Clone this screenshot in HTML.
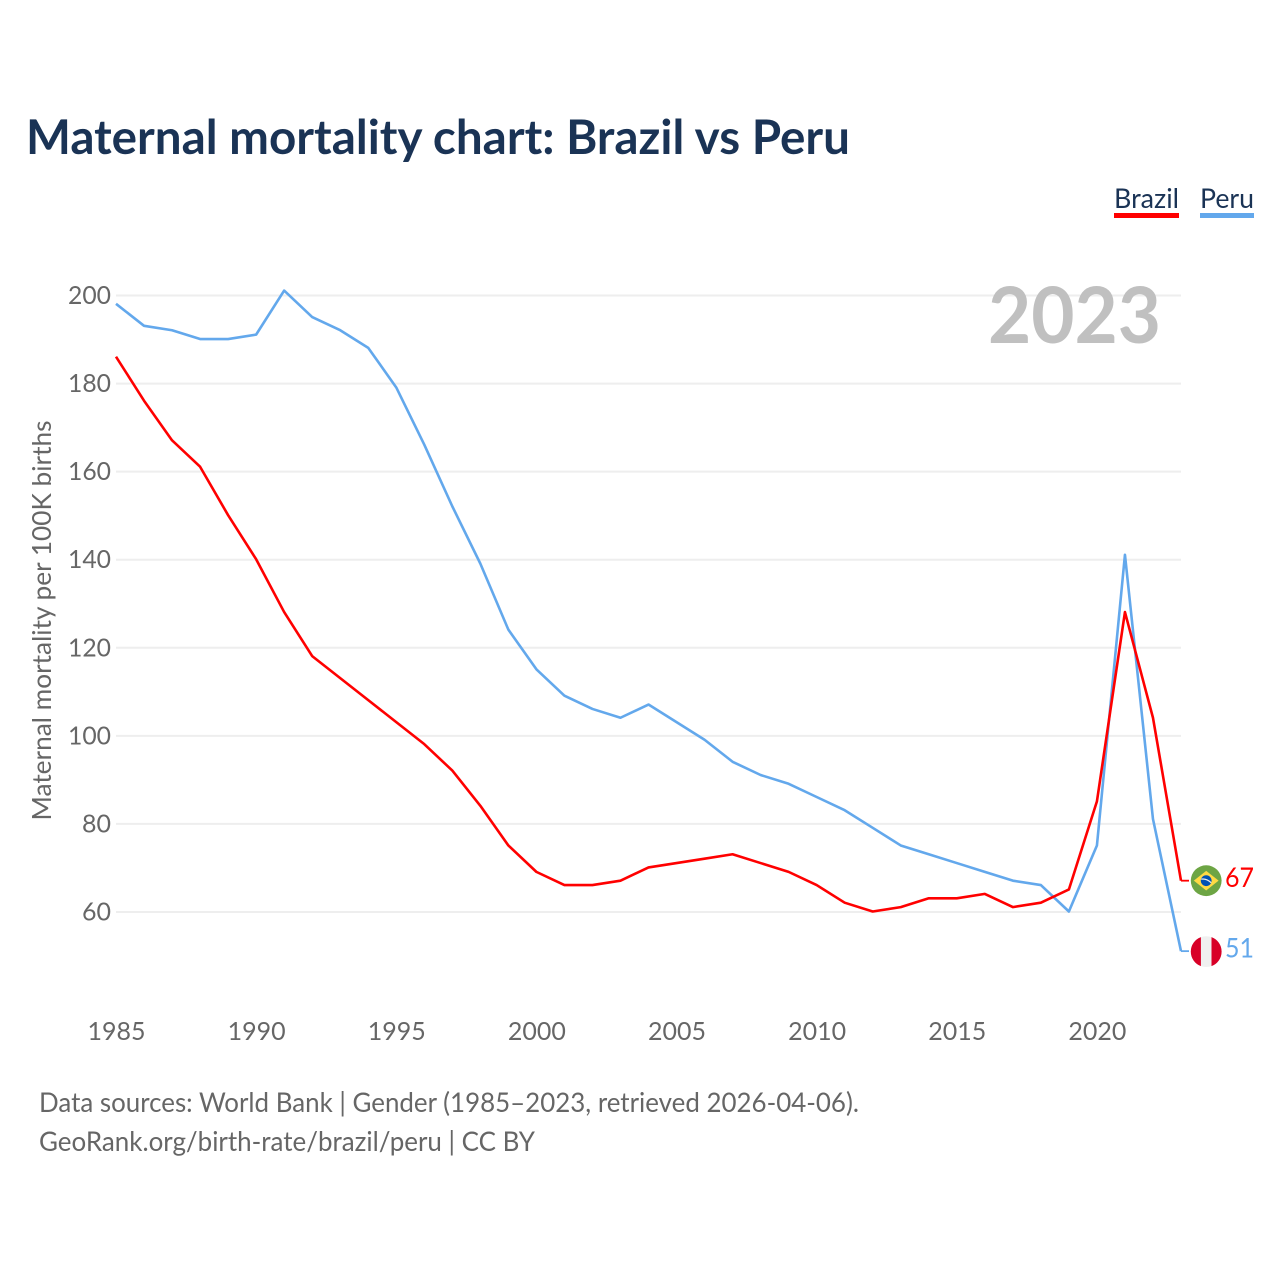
<!DOCTYPE html>
<html>
<head>
<meta charset="utf-8">
<title>Maternal mortality chart: Brazil vs Peru</title>
<style>
html,body{margin:0;padding:0;background:#fff;width:1280px;height:1280px;overflow:hidden}
svg{display:block}
text{font-family:"Lato","Carlito","Liberation Sans",sans-serif}
</style>
</head>
<body>
<svg id="chart" width="1280" height="1280" viewBox="0 0 1280 1280" xmlns="http://www.w3.org/2000/svg">
  <text x="26" y="154" font-size="48" font-weight="700" fill="#1a3355" textLength="824" lengthAdjust="spacingAndGlyphs">Maternal mortality chart: Brazil vs Peru</text>
  <g id="legend">
    <g>
      <text x="1114" y="208" font-size="27" fill="#1a3355" textLength="65" lengthAdjust="spacingAndGlyphs">Brazil</text>
      <rect x="1114" y="213" width="65" height="5" fill="#ff0000"/>
    </g>
    <g>
      <text x="1200" y="208" font-size="27" fill="#1a3355" textLength="54" lengthAdjust="spacingAndGlyphs">Peru</text>
      <rect x="1200" y="213" width="54" height="5" fill="#63a8ec"/>
    </g>
  </g>
  <g id="grid"></g>
  <g id="yticks"></g>
  <g id="xticks"></g>
  <text transform="translate(51,620.5) rotate(-90)" text-anchor="middle" font-size="26" fill="#666666" textLength="400" lengthAdjust="spacingAndGlyphs">Maternal mortality per 100K births</text>
  <text x="1161" y="343" text-anchor="end" font-size="78" font-weight="700" fill="#c0c0c0" textLength="173" lengthAdjust="spacingAndGlyphs">2023</text>
  <g id="series"></g>
  <g id="flag-brazil"></g>
  <g id="flag-peru"></g>
  <g id="end-labels"></g>
  <text x="39" y="1112" font-size="27" fill="#666666" textLength="820" lengthAdjust="spacingAndGlyphs">Data sources: World Bank | Gender (1985–2023, retrieved 2026-04-06).</text>
  <text x="39" y="1151" font-size="27" fill="#666666" textLength="496" lengthAdjust="spacingAndGlyphs">GeoRank.org/birth-rate/brazil/peru | CC BY</text>
</svg>
<script>
const years = [1985,1986,1987,1988,1989,1990,1991,1992,1993,1994,1995,1996,1997,1998,1999,2000,2001,2002,2003,2004,2005,2006,2007,2008,2009,2010,2011,2012,2013,2014,2015,2016,2017,2018,2019,2020,2021,2022,2023];
const brazilValues = [186,176,167,161,150,140,128,118,113,108,103,98,92,84,75,69,66,66,67,70,71,72,73,71,69,66,62,60,61,63,63,64,61,62,65,85,128,104,67];
const peruValues = [198,193,192,190,190,191,201,195,192,188,179,166,152,139,124,115,109,106,104,107,103,99,94,91,89,86,83,79,75,73,71,69,67,66,60,75,141,81,51];
const yTickValues = [60,80,100,120,140,160,180,200];
const xTickValues = [1985,1990,1995,2000,2005,2010,2015,2020];

const NS = 'http://www.w3.org/2000/svg';
const xScale = function (year) { return 116 + (year - 1985) * (1181 - 116) / 38; };
const yScale = function (value) { return 912 - (value - 60) * (912 - 295.5) / 140; };
const lineY = function (value) { return yScale(value) - 0.5; };
function make(tag, attrs, parent, text) {
  const el = document.createElementNS(NS, tag);
  for (const k in attrs) el.setAttribute(k, attrs[k]);
  if (text !== undefined) el.textContent = text;
  parent.appendChild(el);
  return el;
}

const gridG = document.getElementById('grid');
const yG = document.getElementById('yticks');
yTickValues.forEach(function (v) {
  const line = make('line', {x1: 116, x2: 1181, y1: yScale(v), y2: yScale(v), stroke: '#eeeeee', 'stroke-width': 2}, gridG);
  
  
  const label = make('text', {x: 111, y: yScale(v) + 8.5, 'text-anchor': 'end', 'font-size': 25, fill: '#666666', lengthAdjust: 'spacingAndGlyphs'}, yG, String(v));
  label.setAttribute('textLength', v >= 100 ? 43 : 29);
  
  
});

const xG = document.getElementById('xticks');
xTickValues.forEach(function (y) {
  const label = make('text', {x: xScale(y) + 0.5, y: 1040, 'text-anchor': 'middle', 'font-size': 25, fill: '#666666', textLength: 58, lengthAdjust: 'spacingAndGlyphs'}, xG, String(y));
  
  
});

function linePath(values) {
  return values.map(function (v, i) {
    return (i ? 'L' : 'M') + xScale(years[i]).toFixed(2) + ' ' + lineY(v).toFixed(2);
  }).join(' ');
}
const seriesG = document.getElementById('series');
const peruLine = make('path', {d: linePath(peruValues), fill: 'none', stroke: '#63a8ec', 'stroke-width': 2.6, 'stroke-linejoin': 'round'}, seriesG);


const brazilLine = make('path', {d: linePath(brazilValues), fill: 'none', stroke: '#ff0000', 'stroke-width': 2.6, 'stroke-linejoin': 'round'}, seriesG);



const lastIdx = years.length - 1;
const brazilEndY = lineY(brazilValues[lastIdx]);
const peruEndY = lineY(peruValues[lastIdx]);
const endX = xScale(years[lastIdx]);

const leaderB = make('line', {x1: endX, x2: endX + 8, y1: brazilEndY, y2: brazilEndY, stroke: '#ff0000', 'stroke-width': 1.8}, seriesG);


const leaderP = make('line', {x1: endX, x2: endX + 8, y1: peruEndY, y2: peruEndY, stroke: '#63a8ec', 'stroke-width': 1.8}, seriesG);



/* Brazil flag */
const fb = document.getElementById('flag-brazil');
const bx = 1206.2, by = brazilEndY;
const bCircle = make('circle', {cx: bx, cy: by, r: 15.4, fill: '#6da544'}, fb);


const bDiamond = make('polygon', {points: [bx, by - 9.8, bx + 12.4, by, bx, by + 9.8, bx - 12.4, by].join(' '), fill: '#ffda44'}, fb);


const bGlobe = make('circle', {cx: bx, cy: by, r: 5.4, fill: '#0052b4'}, fb);


const bBand = make('path', {d: 'M' + (bx - 5) + ' ' + (by - 1.5) + ' Q' + bx + ' ' + (by - 2.5) + ' ' + (bx + 5) + ' ' + (by + 2), fill: 'none', stroke: '#f0f0f0', 'stroke-width': 1.2}, fb);



/* Peru flag */
const fp = document.getElementById('flag-peru');
const px = 1206.2, py = peruEndY + 0.5;
const pCircle = make('circle', {cx: px, cy: py, r: 15.4, fill: '#f0f0f0'}, fp);


const pLeft = make('path', {d: 'M' + (px - 5.3) + ' ' + (py - 14.46) + ' A15.4 15.4 0 0 0 ' + (px - 5.3) + ' ' + (py + 14.46) + ' Z', fill: '#d80027'}, fp);


const pRight = make('path', {d: 'M' + (px + 5.3) + ' ' + (py - 14.46) + ' A15.4 15.4 0 0 1 ' + (px + 5.3) + ' ' + (py + 14.46) + ' Z', fill: '#d80027'}, fp);



/* End value labels */
const endG = document.getElementById('end-labels');
const brazilEnd = make('text', {x: 1225, y: brazilEndY + 6.5, 'font-size': 27, fill: '#ff0000', textLength: 29, lengthAdjust: 'spacingAndGlyphs'}, endG, String(brazilValues[lastIdx]));


const peruEnd = make('text', {x: 1225, y: peruEndY + 6.5, 'font-size': 27, fill: '#63a8ec', textLength: 29, lengthAdjust: 'spacingAndGlyphs'}, endG, String(peruValues[lastIdx]));


</script>
</body>
</html>
